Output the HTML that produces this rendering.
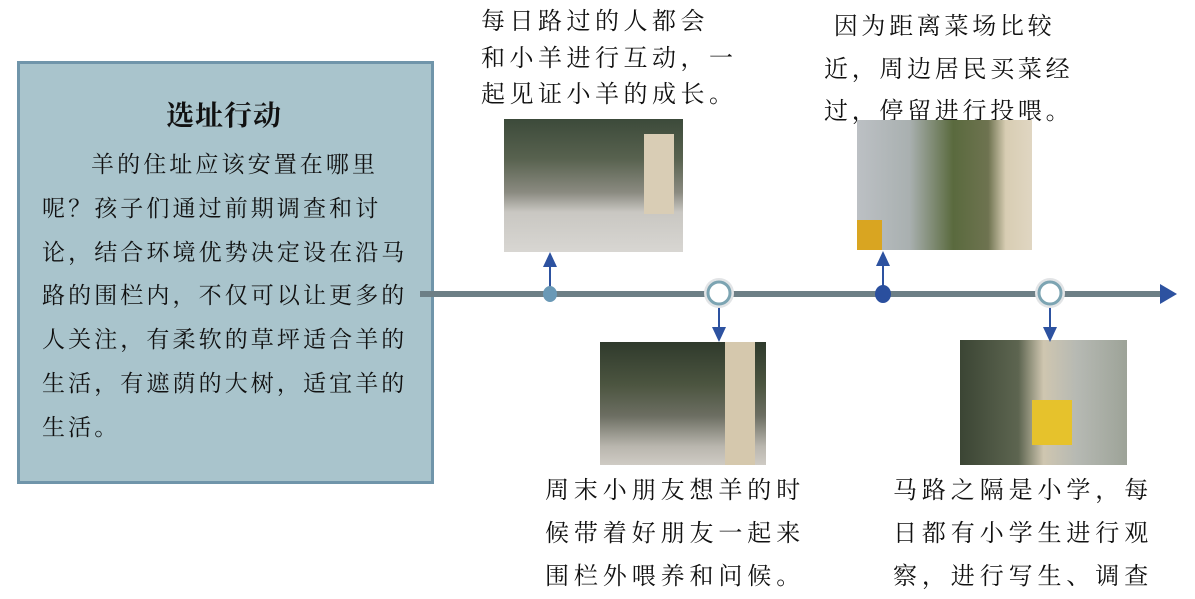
<!DOCTYPE html>
<html><head><meta charset="utf-8"><style>
body{margin:0;width:1195px;height:589px;background:#fff;position:relative;overflow:hidden;font-family:"Liberation Serif","Noto Serif CJK SC",serif;color:#111}
.l{position:absolute;white-space:nowrap;line-height:1}
.box{position:absolute;left:17px;top:61px;width:411px;height:417px;background:#a9c4cc;border:3px solid #7095aa}
.ph{position:absolute;overflow:hidden}
</style></head><body>
<div class="box"></div>
<div class="l" style="left:166px;top:103px;font-size:28px;font-weight:bold;letter-spacing:1px">选址行动</div>
<div style="position:absolute;left:42px;top:143px;font-size:23px;letter-spacing:3.1px;line-height:43.8px">
<div style="padding-left:49px">羊的住址应该安置在哪里</div>
<div>呢？孩子们通过前期调查和讨</div>
<div>论，结合环境优势决定设在沿马</div>
<div>路的围栏内，不仅可以让更多的</div>
<div>人关注，有柔软的草坪适合羊的</div>
<div>生活，有遮荫的大树，适宜羊的</div>
<div>生活。</div>
</div>

<div style="position:absolute;left:481px;top:4px;font-size:24px;letter-spacing:4.5px;line-height:36.5px">
<div>每日路过的人都会</div><div>和小羊进行互动，一</div><div>起见证小羊的成长。</div></div>
<div style="position:absolute;left:824px;top:6px;font-size:24px;letter-spacing:3.7px;line-height:42.5px">
<div>&nbsp;因为距离菜场比较</div><div>近，周边居民买菜经</div><div>过，停留进行投喂。</div></div>
<div style="position:absolute;left:545px;top:470px;font-size:24px;letter-spacing:4.9px;line-height:43px">
<div>周末小朋友想羊的时</div><div>候带着好朋友一起来</div><div>围栏外喂养和问候。</div></div>
<div style="position:absolute;left:893px;top:470px;font-size:24px;letter-spacing:4.9px;line-height:43px">
<div>马路之隔是小学，每</div><div>日都有小学生进行观</div><div>察，进行写生、调查</div></div>

<div class="ph" style="left:504px;top:119px;width:179px;height:133px;background:linear-gradient(180deg,#3c4a3a 0%,#58624f 30%,#8a8a80 55%,#c9c7c2 70%,#d8d6d2 100%)">
<div style="position:absolute;left:140px;top:15px;width:30px;height:80px;background:#d9cdb5"></div></div>
<div class="ph" style="left:857px;top:120px;width:175px;height:130px;background:linear-gradient(90deg,#bcc0c4 0%,#a9b0b0 30%,#5a6a3e 55%,#6e7350 75%,#d8cdb3 85%,#e0d6c2 100%)">
<div style="position:absolute;left:0;top:100px;width:25px;height:30px;background:#d9a521"></div></div>
<div class="ph" style="left:600px;top:342px;width:166px;height:123px;background:linear-gradient(180deg,#2f3a2c 0%,#4c5540 35%,#6c6e62 60%,#b9b6ae 85%,#cfcbc4 100%)">
<div style="position:absolute;left:125px;top:0;width:30px;height:123px;background:#d5c8ad"></div></div>
<div class="ph" style="left:960px;top:340px;width:167px;height:125px;background:linear-gradient(90deg,#3b4534 0%,#5d6550 35%,#cfc6b0 50%,#b6b9b3 70%,#9da398 100%)">
<div style="position:absolute;left:72px;top:60px;width:40px;height:45px;background:#e6c22c"></div></div>

<svg width="1195" height="589" style="position:absolute;left:0;top:0">
<line x1="420" y1="294" x2="1162" y2="294" stroke="#6d7f86" stroke-width="6"/>
<polygon points="1160,284 1177,294 1160,304" fill="#2d52a0"/>
<g stroke="#2d52a0" stroke-width="2" fill="#2d52a0">
<line x1="550" y1="294" x2="550" y2="265"/><polygon points="543,267 557,267 550,252" stroke="none"/>
<line x1="883" y1="294" x2="883" y2="265"/><polygon points="876,266 890,266 883,251" stroke="none"/>
<line x1="719" y1="305" x2="719" y2="328"/><polygon points="712,327 726,327 719,342" stroke="none"/>
<line x1="1050" y1="305" x2="1050" y2="328"/><polygon points="1043,327 1057,327 1050,342" stroke="none"/>
</g>
<ellipse cx="550" cy="294" rx="7" ry="8" fill="#6a99b6"/>
<ellipse cx="883" cy="294" rx="8" ry="9" fill="#2a4f9e"/>
<circle cx="719" cy="293" r="15" fill="#e2e4e6"/><circle cx="719" cy="293" r="11" fill="#fff" stroke="#7ca4b2" stroke-width="3"/>
<circle cx="1050" cy="293" r="15" fill="#e2e4e6"/><circle cx="1050" cy="293" r="11" fill="#fff" stroke="#7ca4b2" stroke-width="3"/>
</svg>
</body></html>
